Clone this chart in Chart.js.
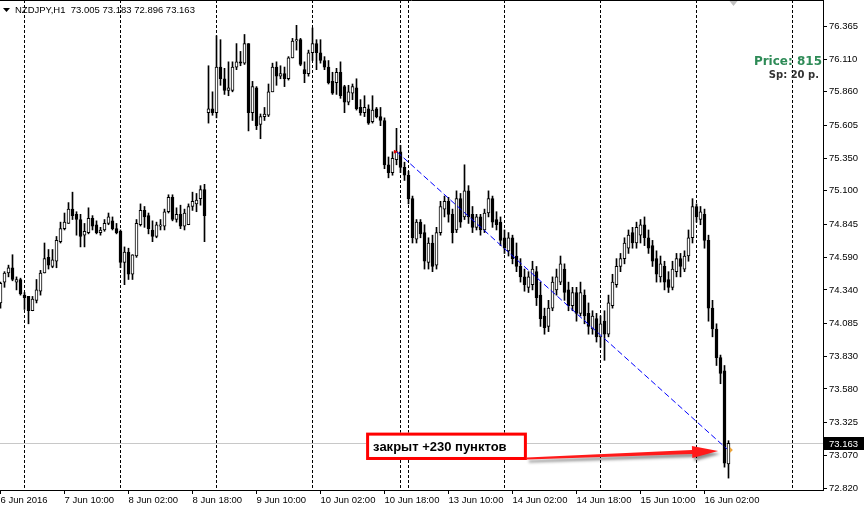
<!DOCTYPE html>
<html>
<head>
<meta charset="utf-8">
<script src="https://cdn.jsdelivr.net/npm/chart.js@4"></script>
<style>
  html, body { margin: 0; padding: 0; background: #fff; }
</style>
</head>
<body>
<canvas id="chart" width="865" height="511"></canvas>
<script>
// NZDJPY H1, bar index 0 = 7 Jun 00:00 (first bar on screen is -6)
const firstBar = -6;
const opens = [
  74.24,74.40,74.47,74.51,74.40,74.42,74.30,74.29,74.18,74.26,
  74.33,74.47,74.59,74.52,74.56,74.71,74.81,74.85,74.96,74.92,
  74.88,74.76,74.78,74.89,74.84,74.78,74.80,74.85,74.87,74.81,
  74.79,74.55,74.63,74.46,74.60,74.84,74.95,74.91,74.80,74.75,
  74.83,74.83,74.94,75.05,74.88,74.92,74.83,74.84,74.98,75.00,
  75.04,75.11,75.70,75.73,75.70,76.05,75.96,75.87,75.87,76.05,
  76.09,76.08,76.23,75.70,75.89,75.61,75.67,75.68,75.86,76.05,
  75.98,76.00,75.96,76.12,76.25,76.26,76.03,76.00,76.16,76.23,
  76.16,76.10,76.05,75.94,75.93,76.01,75.90,75.78,75.85,75.89,
  75.74,75.70,75.73,75.63,75.73,75.67,75.64,75.30,75.24,75.34,
  75.40,75.28,75.22,75.04,74.73,74.86,74.78,74.55,74.70,74.53,
  74.78,74.96,75.02,74.92,74.80,75.04,74.90,75.10,74.92,74.82,
  74.90,74.80,74.93,75.04,74.88,74.86,74.74,74.64,74.74,74.60,
  74.52,74.44,74.36,74.38,74.48,74.30,74.14,74.06,74.20,74.34,
  74.40,74.50,74.34,74.22,74.32,74.16,74.30,74.16,74.04,74.12,
  73.98,74.10,74.00,74.22,74.38,74.52,74.58,74.66,74.78,74.70,
  74.76,74.84,74.74,74.68,74.58,74.44,74.52,74.42,74.36,74.48,
  74.58,74.50,74.60,74.74,74.98,74.88,74.92,74.72,74.20,74.04,
  73.82,73.72,73.005
];
const highs = [
  74.40,74.48,74.53,74.61,74.44,74.43,74.32,74.29,74.29,74.42,
  74.49,74.70,74.65,74.65,74.75,74.86,74.93,75.01,75.09,74.94,
  74.92,74.85,74.97,74.91,74.87,74.82,74.88,74.93,74.90,74.85,
  74.80,74.67,74.66,74.61,74.88,75.00,74.98,74.93,74.87,74.86,
  74.88,74.96,75.07,75.07,74.97,74.99,74.96,75.00,75.09,75.08,
  75.14,75.15,76.06,75.86,76.29,76.26,76.04,76.09,76.09,76.23,
  76.17,76.30,76.23,75.94,75.90,75.69,75.74,75.92,76.08,76.09,
  76.06,76.05,76.13,76.27,76.37,76.27,76.09,76.18,76.35,76.26,
  76.26,76.13,76.10,76.01,76.04,76.09,75.91,75.91,75.92,75.96,
  75.80,75.83,75.76,75.83,75.74,75.74,75.66,75.36,75.40,75.58,
  75.45,75.32,75.25,75.06,74.88,74.88,74.84,74.74,74.76,74.82,
  75.02,75.06,75.05,74.96,75.10,75.08,75.30,75.14,74.98,74.92,
  74.92,74.96,75.10,75.06,74.94,74.90,74.80,74.78,74.76,74.70,
  74.58,74.50,74.48,74.56,74.52,74.40,74.20,74.26,74.44,74.50,
  74.60,74.54,74.40,74.36,74.36,74.40,74.34,74.24,74.18,74.16,
  74.14,74.18,74.30,74.46,74.58,74.62,74.74,74.80,74.82,74.86,
  74.88,74.90,74.80,74.72,74.64,74.60,74.56,74.48,74.56,74.62,
  74.62,74.64,74.80,75.04,75.00,74.98,74.96,74.76,74.26,74.08,
  73.84,73.76,73.183
];
const lows = [
  74.20,74.36,74.44,74.41,74.34,74.30,74.19,74.08,74.18,74.24,
  74.30,74.47,74.50,74.51,74.51,74.70,74.80,74.85,74.88,74.76,
  74.67,74.67,74.77,74.80,74.77,74.76,74.79,74.84,74.80,74.77,
  74.51,74.38,74.42,74.42,74.59,74.83,74.82,74.77,74.71,74.74,
  74.80,74.80,74.93,74.87,74.86,74.81,74.80,74.84,74.95,74.94,
  74.99,74.71,75.62,75.68,75.66,75.91,75.84,75.83,75.86,76.03,
  76.06,76.07,75.56,75.64,75.57,75.50,75.64,75.67,75.86,75.91,
  75.96,75.90,75.95,76.12,76.18,76.06,75.93,75.98,76.10,76.03,
  76.08,76.03,75.92,75.84,75.84,75.81,75.70,75.76,75.80,75.72,
  75.68,75.67,75.61,75.62,75.66,75.60,75.27,75.20,75.22,75.30,
  75.24,75.18,75.00,74.70,74.70,74.74,74.50,74.50,74.48,74.50,
  74.76,74.90,74.86,74.70,74.78,74.82,74.88,74.85,74.78,74.80,
  74.76,74.78,74.90,74.82,74.80,74.68,74.62,74.60,74.54,74.48,
  74.40,74.33,74.32,74.34,74.22,74.06,74.00,74.02,74.18,74.30,
  74.38,74.26,74.18,74.18,74.10,74.14,74.08,74.00,74.00,73.94,
  73.90,73.80,73.98,74.20,74.36,74.48,74.54,74.62,74.66,74.66,
  74.70,74.68,74.62,74.52,74.40,74.40,74.34,74.32,74.34,74.44,
  74.44,74.48,74.56,74.70,74.86,74.84,74.66,74.10,73.98,73.76,
  73.62,72.98,72.896
];
const closes = [
  74.39,74.47,74.51,74.42,74.42,74.31,74.28,74.18,74.27,74.34,
  74.47,74.58,74.53,74.57,74.72,74.81,74.86,74.96,74.91,74.88,
  74.75,74.79,74.89,74.83,74.78,74.80,74.85,74.90,74.81,74.78,
  74.55,74.63,74.46,74.61,74.85,74.95,74.90,74.81,74.75,74.84,
  74.84,74.94,75.05,74.88,74.92,74.83,74.93,74.98,75.02,75.03,
  75.11,74.91,75.73,75.70,76.05,75.96,75.87,75.89,76.05,76.09,
  76.08,76.23,75.70,75.90,75.60,75.67,75.69,75.86,76.05,75.98,
  76.00,75.96,76.12,76.25,76.26,76.07,76.00,76.16,76.23,76.16,
  76.10,76.05,75.93,75.85,76.01,75.83,75.78,75.86,75.90,75.73,
  75.70,75.74,75.62,75.72,75.67,75.64,75.30,75.24,75.35,75.40,
  75.28,75.22,75.04,74.74,74.86,74.77,74.56,74.70,74.52,74.78,
  74.98,75.02,74.92,74.78,75.04,74.86,75.10,74.90,74.82,74.90,
  74.80,74.93,75.04,74.86,74.84,74.72,74.66,74.74,74.58,74.52,
  74.44,74.38,74.44,74.50,74.28,74.12,74.05,74.20,74.40,74.44,
  74.54,74.32,74.22,74.32,74.16,74.32,74.14,74.06,74.14,73.98,
  74.08,74.00,74.24,74.40,74.52,74.58,74.70,74.76,74.70,74.82,
  74.84,74.74,74.66,74.56,74.46,74.54,74.40,74.36,74.50,74.58,
  74.52,74.60,74.74,74.98,74.90,74.94,74.72,74.20,74.04,73.82,
  73.70,73.01,73.163
];

const timeTickBars = [-6, 10, 26, 42, 58, 74, 90, 106, 122, 138, 154, 170];
const timeTickLabels = ['6 Jun 2016', '7 Jun 10:00', '8 Jun 02:00', '8 Jun 18:00', '9 Jun 10:00',
  '10 Jun 02:00', '10 Jun 18:00', '13 Jun 10:00', '14 Jun 02:00', '14 Jun 18:00', '15 Jun 10:00', '16 Jun 02:00'];
const priceTicks = [76.365, 76.110, 75.860, 75.605, 75.350, 75.100, 74.845, 74.590,
  74.340, 74.085, 73.830, 73.580, 73.325, 73.070, 72.820];
const daySeparators = [0, 24, 48, 72, 94, 96, 120, 144, 168, 192];

const symbolInfo = 'NZDJPY,H1  73.005 73.183 72.896 73.163';
const lastPrice = 73.163;
const priceInfo = 'Price: 815';
const spreadInfo = 'Sp: 20 p.';
const noteText = 'закрыт +230 пунктов';

// trade: open -> close, and the note box / arrow anchored in bar & price units
const tradeOpen = { x: 93.1, y: 75.40 };
const tradeClose = { x: 175.6, y: 73.12 };
const noteBox = { from: 85.4, to: 125.6, top: 73.245, bottom: 73.035 };
const arrowFrom = { x: 125.6, y: 73.047 };
const arrowTo = { x: 173.4, y: 73.103 };
const shiftMarkerBar = 177.25;

const FONT = "'Liberation Sans', Arial, sans-serif";
const bars = opens.map((_, i) => firstBar + i);
const isBull = i => closes[i] >= opens[i];

const mt4Overlay = {
  id: 'mt4Overlay',
  beforeDraw(chart) {
    const c = chart.ctx;
    c.save();
    c.fillStyle = '#fff';
    c.fillRect(0, 0, chart.width, chart.height);
    c.restore();
  },
  beforeDatasetsDraw(chart) {
    const { ctx: c, chartArea: a, scales: { x, y } } = chart;
    c.save();
    c.beginPath();
    c.rect(a.left, a.top, a.right - a.left, a.bottom - a.top);
    c.clip();
    // last price line
    const ly = Math.round(y.getPixelForValue(lastPrice)) + 0.5;
    c.strokeStyle = '#c8c8c8';
    c.lineWidth = 1;
    c.beginPath(); c.moveTo(a.left, ly); c.lineTo(a.right, ly); c.stroke();
    // day separators
    c.strokeStyle = '#000';
    c.setLineDash([3, 2]);
    daySeparators.forEach(d => {
      const px = x.getPixelForValue(d);
      c.beginPath(); c.moveTo(px, a.top); c.lineTo(px, a.bottom); c.stroke();
    });
    c.restore();
  },
  afterDatasetsDraw(chart) {
    const { ctx: c, scales: { x, y } } = chart;
    c.save();
    // trade markers
    const ox = x.getPixelForValue(tradeOpen.x), oy = y.getPixelForValue(tradeOpen.y);
    c.fillStyle = '#e00000';
    c.beginPath(); c.moveTo(ox - 3, oy - 2); c.lineTo(ox + 1, oy); c.lineTo(ox - 3, oy + 2); c.closePath(); c.fill();
    const cx = x.getPixelForValue(tradeClose.x) + 3, cy = y.getPixelForValue(tradeClose.y) + 1;
    c.fillStyle = '#eba43a';
    c.beginPath(); c.moveTo(cx, cy - 3); c.lineTo(cx + 3, cy); c.lineTo(cx, cy + 3); c.closePath(); c.fill();

    // note box
    const bx0 = x.getPixelForValue(noteBox.from), bx1 = x.getPixelForValue(noteBox.to);
    const by0 = y.getPixelForValue(noteBox.top), by1 = y.getPixelForValue(noteBox.bottom);
    c.fillStyle = '#fff';
    c.fillRect(bx0, by0, bx1 - bx0, by1 - by0);
    c.strokeStyle = '#ff0000';
    c.lineWidth = 3;
    c.strokeRect(bx0 + 1.5, by0 + 1.5, bx1 - bx0 - 3, by1 - by0 - 3);
    c.fillStyle = '#000';
    c.font = 'bold 13px ' + FONT;
    c.textBaseline = 'alphabetic';
    c.fillText(noteText, bx0 + 7, (by0 + by1) / 2 + 5);

    // arrow with shadow
    const ax0 = x.getPixelForValue(arrowFrom.x), ay0 = y.getPixelForValue(arrowFrom.y);
    const ax1 = x.getPixelForValue(arrowTo.x), ay1 = y.getPixelForValue(arrowTo.y);
    const len = Math.hypot(ax1 - ax0, ay1 - ay0);
    const ux = (ax1 - ax0) / len, uy = (ay1 - ay0) / len;
    const nx = -uy, ny = ux;
    const bxh = ax1 - ux * 26, byh = ay1 - uy * 26;
    c.shadowColor = 'rgba(0,0,0,0.45)';
    c.shadowOffsetX = 2; c.shadowOffsetY = 3; c.shadowBlur = 3;
    c.fillStyle = '#ff1a1a';
    c.beginPath();
    c.moveTo(ax0 + nx * 1, ay0 + ny * 1);
    c.lineTo(bxh + nx * 2, byh + ny * 2);
    c.lineTo(bxh + nx * 6, byh + ny * 6);
    c.lineTo(ax1, ay1);
    c.lineTo(bxh - nx * 6, byh - ny * 6);
    c.lineTo(bxh - nx * 2, byh - ny * 2);
    c.lineTo(ax0 - nx * 1, ay0 - ny * 1);
    c.closePath();
    c.fill();
    c.restore();
  },
  afterDraw(chart) {
    const { ctx: c, chartArea: a, scales: { x, y } } = chart;
    c.save();
    // frame top line
    c.strokeStyle = '#000'; c.lineWidth = 1;
    c.beginPath(); c.moveTo(0, 0.5); c.lineTo(a.right, 0.5); c.stroke();
    // chart shift marker
    const sx = x.getPixelForValue(shiftMarkerBar);
    c.fillStyle = '#c0c0c0';
    c.beginPath(); c.moveTo(sx - 4, 1); c.lineTo(sx + 4, 1); c.lineTo(sx, 6); c.closePath(); c.fill();
    // header
    c.fillStyle = '#000';
    c.beginPath(); c.moveTo(3, 8); c.lineTo(10, 8); c.lineTo(6.5, 12); c.closePath(); c.fill();
    c.font = '9.5px ' + FONT;
    c.textBaseline = 'alphabetic';
    c.fillText(symbolInfo, 15, 13);
    // price / spread info
    c.textAlign = 'right';
    c.font = "bold 12px 'DejaVu Sans', sans-serif";
    c.fillStyle = '#2e8b57';
    c.fillText(priceInfo, 822, 65);
    c.font = "bold 10px 'DejaVu Sans', sans-serif";
    c.fillStyle = '#333333';
    c.fillText(spreadInfo, 819, 78);
    // last price tag on axis
    const ly = Math.round(y.getPixelForValue(lastPrice));
    c.fillStyle = '#000';
    c.fillRect(a.right + 1, ly - 6, 40, 13);
    c.fillStyle = '#fff';
    c.textAlign = 'left';
    c.textBaseline = 'middle';
    c.font = '9.5px ' + FONT;
    c.fillText(lastPrice.toFixed(3), a.right + 6, ly + 1);
    c.restore();
  }
};

new Chart(document.getElementById('chart'), {
  type: 'bar',
  data: {
    datasets: [
      {
        label: 'body',
        data: bars.map((b, i) => ({ x: b, y: [opens[i], closes[i]] })),
        backgroundColor: c => isBull(c.dataIndex) ? '#ffffff' : '#000000',
        borderColor: '#000',
        borderWidth: 1,
        borderSkipped: false,
        barThickness: 3,
        minBarLength: 1,
        grouped: false,
        order: 1
      },
      {
        label: 'wick',
        data: bars.map((b, i) => ({ x: b, y: [lows[i], highs[i]] })),
        backgroundColor: '#000',
        borderWidth: 0,
        barThickness: 1,
        grouped: false,
        order: 2
      },
      {
        type: 'line',
        label: 'trade',
        data: [tradeOpen, tradeClose],
        borderColor: '#0000ff',
        borderWidth: 1,
        borderDash: [6, 3],
        pointRadius: 0,
        order: 0
      }
    ]
  },
  options: {
    responsive: false,
    animation: false,
    devicePixelRatio: 1,
    layout: { padding: 0 },
    plugins: { legend: { display: false }, tooltip: { enabled: false } },
    scales: {
      x: {
        type: 'linear',
        min: firstBar - 0.125,
        max: 199.625,
        offset: false,
        afterBuildTicks: s => { s.ticks = timeTickBars.map(v => ({ value: v })); },
        afterFit: s => { s.height = 21; s.paddingLeft = 0; s.paddingRight = 0; },
        grid: { drawOnChartArea: false, offset: false, tickLength: 4, color: '#000' },
        border: { display: true, color: '#000' },
        ticks: {
          autoSkip: false, maxRotation: 0, minRotation: 0, align: 'start', padding: 1,
          color: '#000', font: { family: FONT, size: 9.5 },
          callback: v => timeTickLabels[timeTickBars.indexOf(v)] ?? ''
        }
      },
      y: {
        type: 'linear',
        position: 'right',
        min: 72.8047,
        max: 76.5645,
        afterBuildTicks: s => { s.ticks = priceTicks.map(v => ({ value: v })); },
        afterFit: s => { s.width = 42; s.paddingTop = 0; s.paddingBottom = 0; },
        grid: { drawOnChartArea: false, tickLength: 4, color: '#000' },
        border: { display: true, color: '#000' },
        ticks: {
          padding: 2, color: '#000', font: { family: FONT, size: 9.5 },
          callback: v => v.toFixed(3)
        }
      }
    }
  },
  plugins: [mt4Overlay]
});
</script>
</body>
</html>
